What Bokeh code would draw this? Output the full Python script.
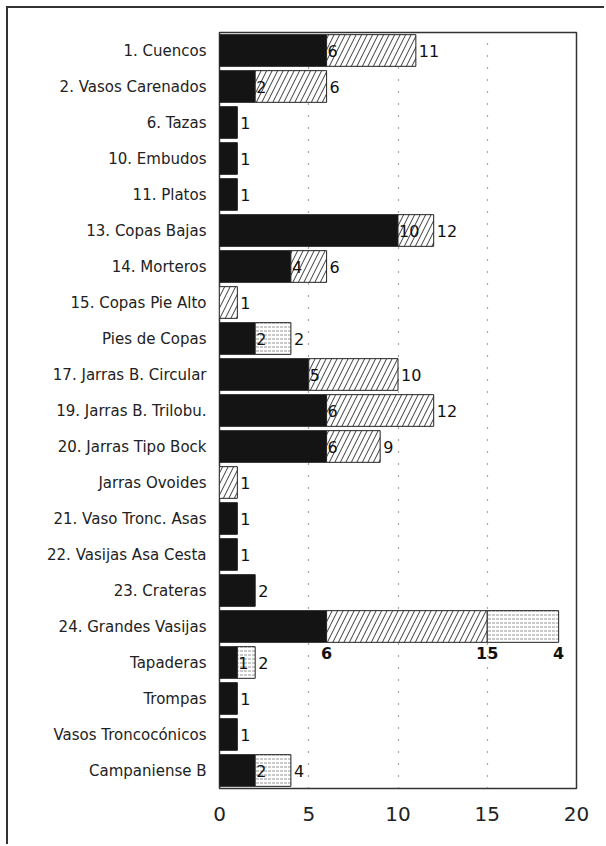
from bokeh.plotting import figure
from bokeh.models import FactorRange, Range1d, FixedTicker, ColumnDataSource
from bokeh.embed import file_html
from bokeh.resources import INLINE
from bokeh.core.properties import value

categories = [
    "1. Cuencos", "2. Vasos Carenados", "6. Tazas", "10. Embudos", "11. Platos",
    "13. Copas Bajas", "14. Morteros", "15. Copas Pie Alto", "Pies de Copas",
    "17. Jarras B. Circular", "19. Jarras B. Trilobu.", "20. Jarras Tipo Bock",
    "Jarras Ovoides", "21. Vaso Tronc. Asas", "22. Vasijas Asa Cesta",
    "23. Crateras", "24. Grandes Vasijas", "Tapaderas", "Trompas",
    "Vasos Troncocónicos", "Campaniense B",
]
black = [6, 2, 1, 1, 1, 10, 4, 0, 2, 5, 6, 6, 0, 1, 1, 2, 6, 1, 1, 1, 2]
hatched = [5, 4, 0, 0, 0, 2, 2, 1, 0, 5, 6, 3, 1, 0, 0, 0, 9, 0, 0, 0, 0]
dotted = [0, 0, 0, 0, 0, 0, 0, 0, 2, 0, 0, 0, 0, 0, 0, 0, 4, 1, 0, 0, 2]

# labels as printed in the figure
mid_labels = ["6", "2", "", "", "", "10", "4", "", "2", "5", "6", "6", "", "", "", "", "", "1", "", "", "2"]
end_labels = ["11", "6", "1", "1", "1", "12", "6", "1", "2", "10", "12", "9", "1", "1", "1", "2", "", "2", "1", "1", "4"]
below_category = "24. Grandes Vasijas"
below_labels = ["6", "15", "4"]

x_ticks = [0, 5, 10, 15, 20]

p = figure(
    width=598, height=838,
    y_range=FactorRange(*reversed(categories), range_padding=0),
    x_range=Range1d(0, 20),
    output_backend="svg", toolbar_location=None,
    min_border_left=211, min_border_right=30, min_border_top=24, min_border_bottom=58,
)
p.styles = {"margin": "6px 0px 0px 6px",
            "border-top": "2px solid #333", "border-left": "2px solid #333"}

def seg(lefts, rights, cats):
    d = dict(y=[], left=[], right=[])
    for c, l, r in zip(cats, lefts, rights):
        if r > l:
            d["y"].append(c); d["left"].append(l); d["right"].append(r)
    return ColumnDataSource(d)

zeros = [0] * len(categories)
b_end = black
h_end = [b + h for b, h in zip(black, hatched)]
d_end = [h + d for h, d in zip(h_end, dotted)]

p.hbar(y="y", left="left", right="right", height=0.88, source=seg(zeros, b_end, categories),
       fill_color="#141414", line_color="#222", line_width=1)
p.hbar(y="y", left="left", right="right", height=0.88, source=seg(b_end, h_end, categories),
       fill_color="white", line_color="#222", line_width=1,
       hatch_pattern="/", hatch_color="#222", hatch_scale=11, hatch_weight=0.9)
p.hbar(y="y", left="left", right="right", height=0.88, source=seg(h_end, d_end, categories),
       fill_color="white", line_color="#222", line_width=1,
       hatch_pattern='"', hatch_color="#666", hatch_scale=4, hatch_weight=0.7)

mx, my, mt = [], [], []
ex, ey, et = [], [], []
for c, b, tot, ml, el in zip(categories, b_end, d_end, mid_labels, end_labels):
    if ml:
        mx.append(b); my.append(c); mt.append(ml)
    if el:
        ex.append(tot); ey.append(c); et.append(el)
lbl_font = value("DejaVu Sans")
p.text(x=mx, y=my, text=mt, text_font=lbl_font, text_font_size="16px",
       text_align="left", text_baseline="middle", x_offset=1, text_color="#111")
p.text(x=ex, y=ey, text=et, text_font=lbl_font, text_font_size="16px",
       text_align="left", text_baseline="middle", x_offset=3, text_color="#111")

gi = categories.index(below_category)
bx = [b_end[gi], h_end[gi], d_end[gi]]
p.text(x=bx, y=[below_category] * 3, text=below_labels, text_font=lbl_font,
       text_font_size="16px", text_font_style="bold", text_align="center",
       text_baseline="middle", y_offset=26, text_color="#111")

p.xaxis.ticker = FixedTicker(ticks=x_ticks)
p.xaxis.axis_line_color = None
p.xaxis.major_tick_line_color = None
p.xaxis.minor_tick_line_color = None
p.xaxis.major_label_text_font = "DejaVu Sans"
p.xaxis.major_label_text_font_size = "20px"
p.xaxis.major_label_text_color = "#222"
p.xaxis.major_label_standoff = 12

p.yaxis.axis_line_color = None
p.yaxis.major_tick_line_color = None
p.yaxis.minor_tick_line_color = None
p.yaxis.major_label_text_font = "DejaVu Sans"
p.yaxis.major_label_text_font_size = "15px"
p.yaxis.major_label_text_color = "#222"
p.yaxis.major_label_standoff = 7

p.ygrid.grid_line_color = None
p.xgrid.ticker = FixedTicker(ticks=[5, 10, 15])
p.xgrid.grid_line_color = "#555"
p.xgrid.grid_line_dash = "1 11"
p.xgrid.grid_line_width = 1.2

p.outline_line_color = "#333"
p.outline_line_width = 1.5
p.background_fill_color = "white"
p.border_fill_color = "white"

open("out.html", "w").write(file_html(p, INLINE))
